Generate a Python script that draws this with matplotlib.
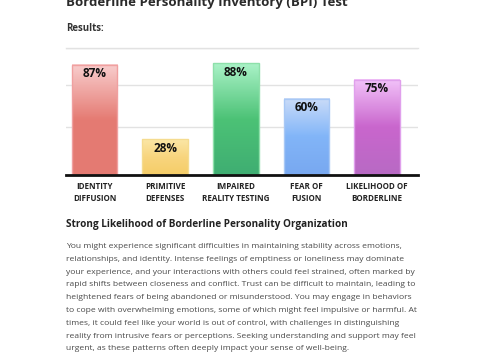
import numpy as np
import matplotlib
matplotlib.use("Agg")
import matplotlib.pyplot as plt
from matplotlib.colors import LinearSegmentedColormap

# data
categories = ["IDENTITY\nDIFFUSION", "PRIMITIVE\nDEFENSES", "IMPAIRED\nREALITY TESTING",
              "FEAR OF\nFUSION", "LIKELIHOOD OF\nBORDERLINE"]
scores = [87, 28, 88, 60, 75]
# gradient stops per bar: top, middle, bottom
bar_colors = [
    ["#f8cdcd", "#e57b73", "#e47a72"],
    ["#fbe7a6", "#f8d57e", "#f5cd68"],
    ["#aaf2c7", "#4cc276", "#3fae72"],
    ["#cadcf8", "#82b5f8", "#78a8f0"],
    ["#f2c2f9", "#c966cd", "#b86ac4"],
]
edge_colors = ["#f0a0a0", "#f5dc90", "#8ee0aa", "#a8c8f5", "#e0a0ec"]
grid_vals = [38, 71, 100]

title = "Borderline Personality Inventory (BPI) Test"
heading = "Strong Likelihood of Borderline Personality Organization"
body = [
    "You might experience significant difficulties in maintaining stability across emotions,",
    "relationships, and identity. Intense feelings of emptiness or loneliness may dominate",
    "your experience, and your interactions with others could feel strained, often marked by",
    "rapid shifts between closeness and conflict. Trust can be difficult to maintain, leading to",
    "heightened fears of being abandoned or misunderstood. You may engage in behaviors",
    "to cope with overwhelming emotions, some of which might feel impulsive or harmful. At",
    "times, it could feel like your world is out of control, with challenges in distinguishing",
    "reality from intrusive fears or perceptions. Seeking understanding and support may feel",
    "urgent, as these patterns often deeply impact your sense of well-being.",
]

W, H = 480, 360
fig = plt.figure(figsize=(W / 100, H / 100), dpi=100)
fig.patch.set_facecolor("white")


def fx(x):
    return x / W


def fy(y):
    return 1 - y / H


ax = fig.add_axes([fx(66), fy(175), 352 / W, 127 / H])
for s in ["top", "right", "left"]:
    ax.spines[s].set_visible(False)
ax.spines["bottom"].set_linewidth(2)
ax.spines["bottom"].set_color("#111111")
ax.spines["bottom"].set_zorder(5)
ax.set_yticks(grid_vals)
ax.set_yticklabels([])
ax.tick_params(left=False, bottom=False, labelbottom=False)
ax.grid(axis="y", color="#e2e2e2", linewidth=1)
ax.set_axisbelow(True)

x = np.arange(len(categories))
bw = 0.646
bars = ax.bar(x, scores, width=bw, color="none", edgecolor="none")
for i, b in enumerate(bars):
    cmap = LinearSegmentedColormap.from_list("g%d" % i, bar_colors[i][::-1])
    grad = np.linspace(0, 1, 100).reshape(-1, 1)
    x0 = b.get_x()
    ax.imshow(grad, extent=[x0, x0 + bw, 0, scores[i]], origin="lower",
              cmap=cmap, aspect="auto", zorder=2)
    ax.bar(x[i], scores[i], width=bw, color="none", edgecolor=edge_colors[i],
           linewidth=1, zorder=3)
    ax.text(x[i], scores[i] - 7, "%d%%" % scores[i], ha="center", va="center",
            fontsize=8.5, fontweight="bold", color="#111111", family="Open Sans", zorder=4)
    ax.text(x[i], -5.5, categories[i], ha="center", va="top", fontsize=5.8,
            fontweight="bold", color="#222222", family="Open Sans", linespacing=1.45)
ax.set_xlim(-0.404, 4.58)
ax.set_ylim(0, 100)

fig.text(fx(66), fy(6), title, fontsize=9.5, fontweight="bold", color="#2a2a2a",
         family="Open Sans", va="baseline")
fig.text(fx(66), fy(31), "Results:", fontsize=7.0, fontweight="bold", color="#333333",
         family="Open Sans", va="baseline")
fig.add_artist(plt.Line2D([fx(66), fx(418)], [fy(48), fy(48)], color="#e2e2e2", lw=1))

fig.text(fx(66), fy(227), heading, fontsize=7.2, fontweight="bold", color="#222222",
         family="Open Sans", va="baseline")
for k, line in enumerate(body):
    fig.text(fx(66), fy(248 + 12.8 * k), line, fontsize=6.1, color="#4a4a4a",
             family="Open Sans", va="baseline")

fig.savefig("out.png", dpi=100, facecolor="white")
